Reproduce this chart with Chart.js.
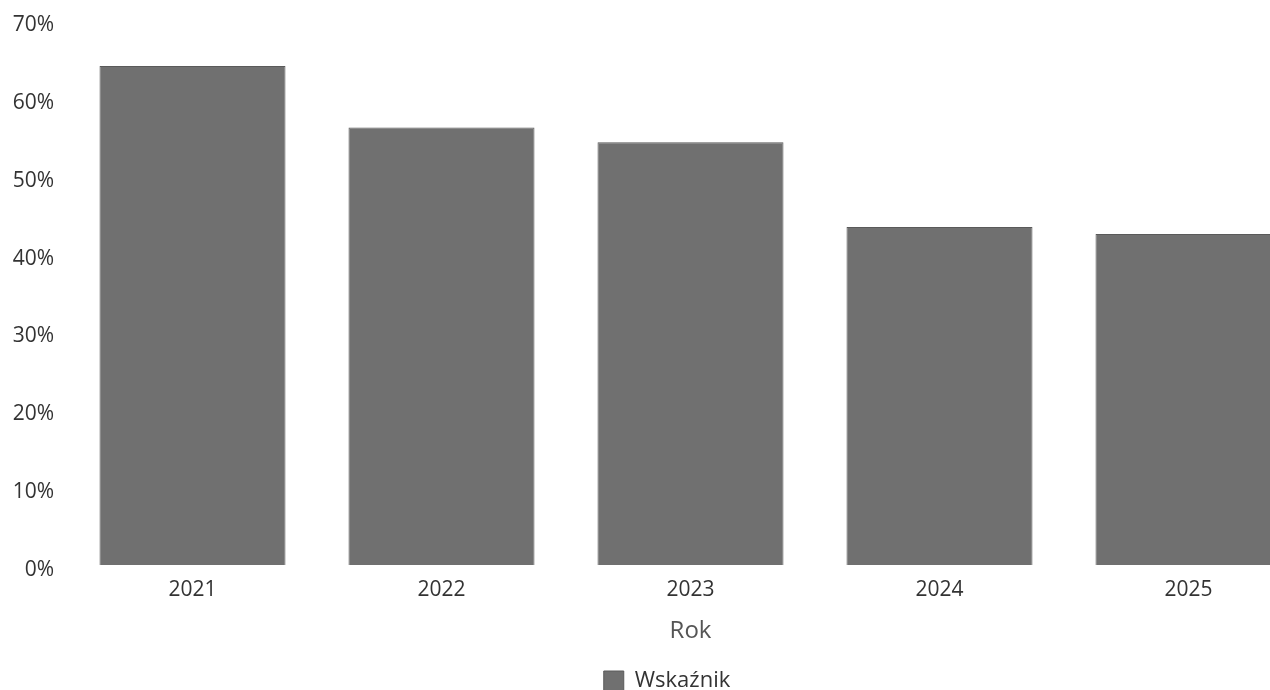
<!DOCTYPE html>
<html>
<head>
<meta charset="utf-8">
<script src="https://cdn.jsdelivr.net/npm/chart.js@4/dist/chart.umd.min.js"></script>
<style>
  html, body { margin: 0; padding: 0; background: #fff; overflow: hidden; }
  #wrap { width: 1348px; height: 690px; position: relative; }
</style>
</head>
<body>
<div id="wrap"><canvas id="c"></canvas></div>
<script>
const years = ['2021', '2022', '2023', '2024', '2025'];
const values = [64.1, 56.2, 54.3, 43.4, 42.5];
const seriesName = 'Wskaźnik';
const xTitle = 'Rok';

Chart.defaults.font.family = '"Open Sans", "Noto Sans", sans-serif';

const legendShift = {
  id: 'legendShift',
  afterLayout(chart) {
    if (chart.legend) { chart.legend.left += 10; chart.legend.right += 10; }
  }
};

new Chart(document.getElementById('c'), {
  type: 'bar',
  data: {
    labels: years,
    datasets: [{
      label: seriesName,
      data: values,
      backgroundColor: '#707070',
      borderColor: '#5a5a5a',
      borderWidth: 1,
      categoryPercentage: 1.0,
      barPercentage: 0.747
    }]
  },
  options: {
    responsive: true,
    maintainAspectRatio: false,
    animation: false,
    layout: { padding: { top: 20, left: 1, right: 35, bottom: -12 } },
    scales: {
      x: {
        grid: { display: false, drawTicks: false },
        border: { display: false },
        ticks: { color: '#333', font: { size: 21 }, padding: 12 },
        title: { display: true, text: xTitle, color: '#555', font: { size: 24 }, padding: { top: 3, bottom: 21 } }
      },
      y: {
        min: 0, max: 70,
        grid: { display: false, drawTicks: false },
        border: { display: false },
        afterFit: (scale) => { scale.width = 67; scale.paddingTop = 0; scale.paddingBottom = 0; },
        ticks: { stepSize: 10, color: '#333', font: { size: 21 }, padding: 14, labelOffset: 5, callback: v => v + '%' }
      }
    },
    plugins: {
      legend: {
        position: 'bottom',
        labels: { color: '#333', font: { size: 22 }, boxWidth: 20, boxHeight: 20, padding: 3 }
      },
      tooltip: { enabled: false }
    }
  },
  plugins: [legendShift]
});
</script>
</body>
</html>
